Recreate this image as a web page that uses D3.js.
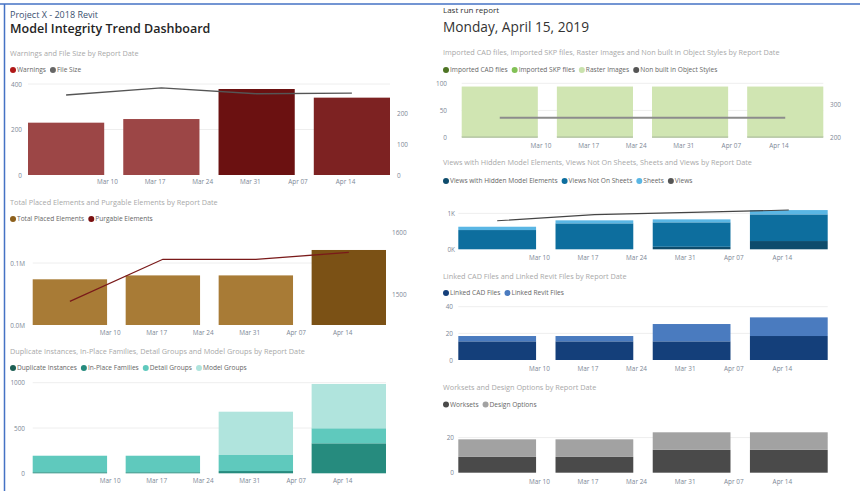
<!DOCTYPE html>
<html>
<head>
<meta charset="utf-8">
<script src="https://cdn.jsdelivr.net/npm/d3@7"></script>
<style>
  body { margin: 0; background: #fff; }
  text { font-family: "Segoe UI", "Open Sans", sans-serif; }
</style>
</head>
<body>
<div id="dashboard"></div>
<script>
// ---- data ----
var reportDates = ["2019-03-04", "2019-03-18", "2019-04-01", "2019-04-15"];
var tickDates = ["2019-03-10", "2019-03-17", "2019-03-24", "2019-03-31", "2019-04-07", "2019-04-14"];

var warnings = [230, 246, 378, 340];
var fileSize = [258, 281, 262, 264];

var totalPlacedElements = [73700, 80000, 80000, 121000];
var purgableElements = [1488, 1556, 1556, 1567];

var duplicateInstances = [0, 0, 0, 0];
var inPlaceFamilies = [12, 12, 25, 331];
var detailGroups = [182, 182, 177, 166];
var modelGroups = [0, 0, 478, 489];

var importedCadFiles = [2, 2, 2, 2];
var importedSkpFiles = [0, 0, 0, 0];
var rasterImages = [92, 92, 92, 92];
var nonBuiltInObjectStyles = [259, 259, 259, 259];

var viewsHiddenElements = [0, 0, 70, 230];
var viewsNotOnSheets = [536, 722, 680, 742];
var sheets = [92, 84, 83, 120];
var views = [794, 966, 1028, 1092];

var linkedCadFiles = [14, 14, 14, 18];
var linkedRevitFiles = [4, 4, 13, 14];

var worksets = [9, 9, 13, 13];
var designOptions = [10, 10, 10, 10];

// ---- setup ----
var parseDate = d3.timeParse("%Y-%m-%d");
var dates = reportDates.map(parseDate);
var ticks = tickDates.map(parseDate);
var DAY = 864e5;
var halfBar = 5.6 * DAY;
var tickColor = "#7d8896";

var svg = d3.select("#dashboard")
  .append("svg")
    .attr("width", 860)
    .attr("height", 491);

// frame lines
svg.append("line").attr("x1", 0).attr("x2", 860).attr("y1", 4).attr("y2", 4)
  .style("stroke", "#4472c4").style("stroke-width", 1.5);
svg.append("line").attr("x1", 4.5).attr("x2", 4.5).attr("y1", 4).attr("y2", 491)
  .style("stroke", "#4472c4").style("stroke-width", 1.5);

// headers
svg.append("text").attr("x", 10).attr("y", 15).attr("dy", ".35em")
  .style("font-size", "9px").style("fill", "#3b5170").text("Project X - 2018 Revit");
svg.append("text").attr("x", 10).attr("y", 29).attr("dy", ".35em")
  .style("font-size", "12.5px").style("font-weight", 600).style("fill", "#252525")
  .text("Model Integrity Trend Dashboard");
svg.append("text").attr("x", 443).attr("y", 10).attr("dy", ".35em")
  .style("font-size", "8px").style("fill", "#333").text("Last run report");
svg.append("text").attr("x", 443).attr("y", 27).attr("dy", ".35em")
  .style("font-size", "13.7px").style("fill", "#333").text("Monday, April 15, 2019");

function styleTicks(sel) {
  sel.select(".domain").remove();
  sel.selectAll("text")
    .style("font-size", "6.4px").style("fill", tickColor)
    .style("font-family", "'Segoe UI','Open Sans',sans-serif");
}

function drawPanel(p) {
  var g = svg.append("g");

  var x = d3.scaleTime()
    .domain([new Date(+dates[0] - halfBar), new Date(+dates[dates.length - 1] + halfBar)])
    .range([p.left, p.right]);
  var y = d3.scaleLinear().domain(p.domain).range([p.bottom, p.top]);

  // title
  g.append("text")
    .attr("x", p.titleX).attr("y", p.titleY).attr("dy", ".35em")
    .style("font-size", "7.3px").style("fill", "#a8a8a8")
    .text(p.title);

  // legend
  var lx = p.titleX;
  p.legend.forEach(function (item) {
    g.append("circle")
      .attr("cx", lx + 3).attr("cy", p.legendY).attr("r", 3)
      .style("fill", item.color);
    var t = g.append("text")
      .attr("x", lx + 7).attr("y", p.legendY).attr("dy", ".35em")
      .style("font-size", "6.6px").style("fill", "#666")
      .text(item.name);
    lx += 7 + t.node().getComputedTextLength() + 4;
  });

  // gridlines
  g.selectAll(".grid")
    .data(p.ticks.filter(function (d) { return d > p.domain[0]; }))
    .enter().append("line")
      .attr("x1", p.left).attr("x2", p.right)
      .attr("y1", function (d) { return y(d); })
      .attr("y2", function (d) { return y(d); })
      .style("stroke", "#eeeeee").style("stroke-width", 1);

  // y axis
  g.append("g")
    .attr("transform", "translate(" + p.labelX + ",0)")
    .call(d3.axisLeft(y).tickValues(p.ticks).tickSize(0).tickPadding(0)
      .tickFormat(p.format || d3.format("d")))
    .call(styleTicks);

  // x axis
  var xAxis = g.append("g")
    .attr("transform", "translate(0," + p.xLabelY + ")")
    .call(d3.axisBottom(x).tickValues(ticks).tickSize(0).tickPadding(0)
      .tickFormat(d3.timeFormat("%b %d")))
    .call(styleTicks);
  xAxis.selectAll("text").attr("y", 0).attr("dy", ".35em");

  // stacked bars
  var keys = p.series.map(function (s) { return s.name; });
  var rows = dates.map(function (d, i) {
    var r = { date: d, i: i };
    p.series.forEach(function (s) { r[s.name] = s.values[i]; });
    return r;
  });
  var stacked = d3.stack().keys(keys)(rows);

  stacked.forEach(function (layer, li) {
    var s = p.series[li];
    g.selectAll(".bar" + li)
      .data(layer)
      .enter().append("rect")
        .attr("x", function (d) { return x(new Date(+d.data.date - halfBar)); })
        .attr("width", function (d) {
          return x(new Date(+d.data.date + halfBar)) - x(new Date(+d.data.date - halfBar));
        })
        .attr("y", function (d) { return y(d[1]); })
        .attr("height", function (d) { return Math.max(0, y(d[0]) - y(d[1])); })
        .style("fill", function (d) { return s.barColors ? s.barColors[d.data.i] : s.color; });
  });

  // line series
  if (p.line) {
    var y2 = p.line.domain
      ? d3.scaleLinear().domain(p.line.domain).range([p.bottom, p.top])
      : y;
    var line = d3.line()
      .x(function (d, i) { return x(dates[i]); })
      .y(function (d) { return y2(d); });
    g.append("path")
      .datum(p.line.values)
      .attr("d", line)
      .style("fill", "none")
      .style("stroke", p.line.color)
      .style("stroke-width", p.line.width);

    if (p.line.ticks) {
      g.append("g")
        .attr("transform", "translate(" + p.line.labelX + ",0)")
        .call(d3.axisRight(y2).tickValues(p.line.ticks).tickSize(0).tickPadding(0)
          .tickFormat(d3.format("d")))
        .call(styleTicks);
    }
  }
}

var fmtM = function (d) { return (d / 1e6).toFixed(1) + "M"; };
var fmtK = function (d) { return (d / 1e3).toFixed(0) + "K"; };

// ---- left column ----
drawPanel({
  title: "Warnings and File Size by Report Date",
  titleX: 10, titleY: 53, legendY: 70,
  legend: [{ name: "Warnings", color: "#b01818" }, { name: "File Size", color: "#666" }],
  left: 28, right: 390, top: 84, bottom: 175, labelX: 22, xLabelY: 182,
  domain: [0, 400], ticks: [0, 200, 400],
  series: [{ name: "Warnings", values: warnings,
    barColors: ["#9c4646", "#9c4646", "#6b1111", "#7d2222"] }],
  line: { values: fileSize, color: "#555", width: 1.3,
    domain: [0, 293.5], ticks: [0, 100, 200], labelX: 397 }
});

drawPanel({
  title: "Total Placed Elements and Purgable Elements by Report Date",
  titleX: 10, titleY: 202, legendY: 219,
  legend: [{ name: "Total Placed Elements", color: "#8d601c" }, { name: "Purgable Elements", color: "#7a1010" }],
  left: 32.7, right: 386, top: 232, bottom: 325, labelX: 25, xLabelY: 333,
  domain: [0, 150000], ticks: [0, 100000], format: fmtM,
  series: [{ name: "Total Placed Elements", values: totalPlacedElements,
    barColors: ["#a87b36", "#a87b36", "#a87b36", "#7b5115"] }],
  line: { values: purgableElements, color: "#7a1a1a", width: 1.3,
    domain: [1450, 1600], ticks: [1500, 1600], labelX: 392 }
});

drawPanel({
  title: "Duplicate Instances, In-Place Families, Detail Groups and Model Groups by Report Date",
  titleX: 10, titleY: 351, legendY: 368,
  legend: [{ name: "Duplicate Instances", color: "#1d5f54" }, { name: "In-Place Families", color: "#268b7e" },
    { name: "Detail Groups", color: "#5fc9bd" }, { name: "Model Groups", color: "#b0e4dd" }],
  left: 32.7, right: 386, top: 382.7, bottom: 473.3, labelX: 25, xLabelY: 481,
  domain: [0, 1000], ticks: [0, 500, 1000],
  series: [
    { name: "Duplicate Instances", values: duplicateInstances, color: "#1d5f54" },
    { name: "In-Place Families", values: inPlaceFamilies, color: "#268b7e" },
    { name: "Detail Groups", values: detailGroups, color: "#5fc9bd" },
    { name: "Model Groups", values: modelGroups, color: "#b0e4dd" }
  ]
});

// ---- right column ----
drawPanel({
  title: "Imported CAD files, Imported SKP files, Raster Images and Non built in Object Styles by Report Date",
  titleX: 443, titleY: 52, legendY: 70,
  legend: [{ name: "Imported CAD files", color: "#4e7424" }, { name: "Imported SKP files", color: "#82c156" },
    { name: "Raster Images", color: "#c9e2ad" }, { name: "Non built in Object Styles", color: "#555" }],
  left: 461.7, right: 823.3, top: 83.3, bottom: 137.5, labelX: 447, xLabelY: 146,
  domain: [0, 100], ticks: [0, 50, 100],
  series: [
    { name: "Imported CAD files", values: importedCadFiles, color: "#7d9a5e" },
    { name: "Imported SKP files", values: importedSkpFiles, color: "#82c156" },
    { name: "Raster Images", values: rasterImages, color: "#d0e5b2" }
  ],
  line: { values: nonBuiltInObjectStyles, color: "#8c8c8c", width: 2.2,
    domain: [200, 361.8], ticks: [200, 300], labelX: 830 }
});

drawPanel({
  title: "Views with Hidden Model Elements, Views Not On Sheets, Sheets and Views by Report Date",
  titleX: 443, titleY: 162.3, legendY: 181,
  legend: [{ name: "Views with Hidden Model Elements", color: "#0e4c6c" }, { name: "Views Not On Sheets", color: "#0d6e9e" },
    { name: "Sheets", color: "#5ab6e4" }, { name: "Views", color: "#555" }],
  left: 458.3, right: 827.7, top: 199, bottom: 249.3, labelX: 455, xLabelY: 257.5,
  domain: [0, 1400], ticks: [0, 1000], format: fmtK,
  series: [
    { name: "Views with Hidden Model Elements", values: viewsHiddenElements, color: "#0e4c6c" },
    { name: "Views Not On Sheets", values: viewsNotOnSheets, color: "#0d6e9e" },
    { name: "Sheets", values: sheets, color: "#5ab6e4" }
  ],
  line: { values: views, color: "#444", width: 1.1 }
});

drawPanel({
  title: "Linked CAD Files and Linked Revit Files by Report Date",
  titleX: 443, titleY: 276, legendY: 293,
  legend: [{ name: "Linked CAD Files", color: "#143f7a" }, { name: "Linked Revit Files", color: "#4a7bbf" }],
  left: 458.3, right: 827.7, top: 306.7, bottom: 360, labelX: 453, xLabelY: 369,
  domain: [0, 40], ticks: [0, 20, 40],
  series: [
    { name: "Linked CAD Files", values: linkedCadFiles, color: "#143f7a" },
    { name: "Linked Revit Files", values: linkedRevitFiles, color: "#4a7bbf" }
  ]
});

drawPanel({
  title: "Worksets and Design Options by Report Date",
  titleX: 443, titleY: 387.5, legendY: 404.5,
  legend: [{ name: "Worksets", color: "#4a4a4a" }, { name: "Design Options", color: "#a2a2a2" }],
  left: 458.3, right: 827.7, top: 420, bottom: 472.7, labelX: 454, xLabelY: 481.7,
  domain: [0, 30], ticks: [0, 20],
  series: [
    { name: "Worksets", values: worksets, color: "#4a4a4a" },
    { name: "Design Options", values: designOptions, color: "#a2a2a2" }
  ]
});
</script>
</body>
</html>
